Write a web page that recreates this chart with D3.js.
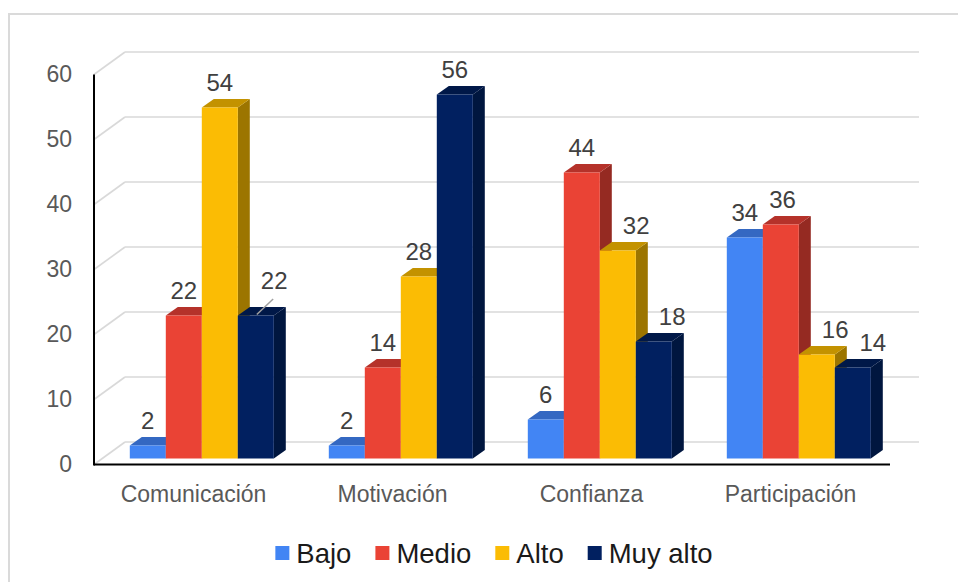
<!DOCTYPE html>
<html>
<head>
<meta charset="utf-8">
<script src="https://cdn.jsdelivr.net/npm/d3@7/dist/d3.min.js"></script>
<style>
  html, body { margin: 0; padding: 0; background: #ffffff; }
  svg { display: block; }
  text { font-family: "Liberation Sans", Arial, sans-serif; }
</style>
</head>
<body>
<svg id="chart" width="958" height="582"></svg>
<script>
// ---- data ----
const categories = ["Comunicación", "Motivación", "Confianza", "Participación"];
const seriesNames = ["Bajo", "Medio", "Alto", "Muy alto"];
const bajo = [2, 2, 6, 34];
const medio = [22, 14, 44, 36];
const alto = [54, 28, 32, 16];
const muyAlto = [22, 56, 18, 14];
const yTicks = [0, 10, 20, 30, 40, 50, 60];
const seriesValues = [bajo, medio, alto, muyAlto];

// ---- styles ----
const frontColors = ["#4285F4", "#EA4335", "#FBBC04", "#012060"];
const topColors   = ["#3468C2", "#B5322A", "#C39200", "#001848"];
const sideColors  = ["#2A56A8", "#952A22", "#9C7500", "#00163F"];

const svg = d3.select("#chart");

// outer border
svg.append("rect").attr("x", 9).attr("y", 14).attr("width", 980).attr("height", 600)
  .attr("fill", "none").attr("stroke", "#dadada").attr("stroke-width", 2);

// geometry
const left = 94, right = 890;
const wallDx = 31, wallDy = -22.5;      // depth of the floor / back wall
const barFx = 8.3, barFy = -6;          // bar front plane offset
const barDx = 12, barDy = -8.5;         // bar depth

const y = d3.scaleLinear().domain([0, 60]).range([464.5, 74.5]);
const x0 = d3.scaleBand().domain(categories).range([left, right]).padding(0);
const x1 = d3.scaleBand().domain(seriesNames).range([27.5, 27.5 + 144]).padding(0);

// gridlines (back wall + left wall diagonals)
const grid = svg.append("g");
yTicks.forEach(t => {
  const yf = y(t), yb = y(t) + wallDy;
  grid.append("line").attr("x1", left).attr("y1", yf).attr("x2", left + wallDx).attr("y2", yb)
    .attr("stroke", "#d9d9d9").attr("stroke-width", 1.6);
  grid.append("line").attr("x1", left + wallDx).attr("y1", yb).attr("x2", right + wallDx - 2).attr("y2", yb)
    .attr("stroke", "#d9d9d9").attr("stroke-width", 1.6);
});

// y axis labels
const yAxis = d3.axisLeft(y).tickValues(yTicks).tickSize(0).tickPadding(22);
const gy = svg.append("g").attr("transform", `translate(${left},0)`).call(yAxis);
gy.select(".domain").remove();
gy.selectAll("text").attr("font-size", 23).attr("fill", "#595959")
  .style("font-family", '"Liberation Sans", Arial, sans-serif');

// bars
const barsG = svg.append("g");
const labelsG = svg.append("g");
const bw = x1.bandwidth();

categories.forEach((cat, ci) => {
  const placed = [];
  seriesNames.forEach((s, si) => {
    const v = seriesValues[si][ci];
    const xl = x0(cat) + x1(s) + barFx;
    const xr = xl + bw;
    const yb = y(0) + barFy;
    const yt = y(v) + barFy;
    // side
    barsG.append("path")
      .attr("d", `M${xr},${yt}L${xr + barDx},${yt + barDy}L${xr + barDx},${yb + barDy}L${xr},${yb}Z`)
      .attr("fill", sideColors[si]);
    // top
    barsG.append("path")
      .attr("d", `M${xl},${yt}L${xr},${yt}L${xr + barDx},${yt + barDy}L${xl + barDx},${yt + barDy}Z`)
      .attr("fill", topColors[si]);
    // front
    barsG.append("rect").attr("x", xl).attr("y", yt).attr("width", bw).attr("height", yb - yt)
      .attr("fill", frontColors[si]);

    // value label with simple collision avoidance
    const t = labelsG.append("text").text(v).attr("font-size", 24).attr("fill", "#404040")
      .attr("text-anchor", "middle");
    const w = t.node().getComputedTextLength();
    let cx = (xl + xr) / 2;
    let base = yt - 16.5;
    const gap = 11;
    if (si > 0) {
      const pv = seriesValues[si - 1][ci];
      const pxr = xr - bw + barDx;           // previous bar side right edge
      const pTop = y(pv) + barFy + barDy;
      if (pv > v && pTop < base + 3 && cx - w / 2 < pxr + gap) {
        cx = pxr + gap + w / 2;
      }
    }
    placed.forEach(p => {
      const overlapY = !(base + 4 < p.base - 18 || base - 18 > p.base + 4);
      if (overlapY && cx - w / 2 < p.right + gap && cx + w / 2 > p.left) {
        cx = p.right + gap + w / 2;
      }
    });
    if (si > 0) {
      const pv = seriesValues[si - 1][ci];
      if (pv - v > 25) {
        const sx = (xl + xr) / 2 + 1, sy = yt - 1;
        base = base - 10;
        labelsG.append("line").attr("x1", sx).attr("y1", sy).attr("x2", cx - 1).attr("y2", base + 10)
          .attr("stroke", "#a0a0a0").attr("stroke-width", 1.5);
      }
    }
    t.attr("x", cx).attr("y", base);
    placed.push({ left: cx - w / 2, right: cx + w / 2, base: base });
  });
});

// axis lines
svg.append("line").attr("x1", left).attr("y1", y(60)).attr("x2", left).attr("y2", y(0) + 1)
  .attr("stroke", "#000").attr("stroke-width", 2);
svg.append("line").attr("x1", left).attr("y1", y(0)).attr("x2", right).attr("y2", y(0))
  .attr("stroke", "#000").attr("stroke-width", 2);

// category labels
const xAxis = d3.axisBottom(x0).tickSize(0).tickPadding(21);
const gx = svg.append("g").attr("transform", `translate(0,${y(0)})`).call(xAxis);
gx.select(".domain").remove();
gx.selectAll("text").attr("font-size", 23).attr("fill", "#595959")
  .style("font-family", '"Liberation Sans", Arial, sans-serif');

// legend
const legend = svg.append("g");
const items = [];
let lx = 0;
seriesNames.forEach((s, i) => {
  const g = legend.append("g");
  g.append("rect").attr("x", lx).attr("y", -7).attr("width", 14).attr("height", 14).attr("fill", frontColors[i]);
  const tx = g.append("text").attr("x", lx + 21).attr("y", 10).attr("font-size", 27.5).attr("fill", "#1a1a1a").text(s);
  const tw = tx.node().getComputedTextLength();
  lx += 21 + tw + 24;
});
const totalW = lx - 24;
legend.attr("transform", `translate(${494 - totalW / 2},553)`);
</script>
</body>
</html>
